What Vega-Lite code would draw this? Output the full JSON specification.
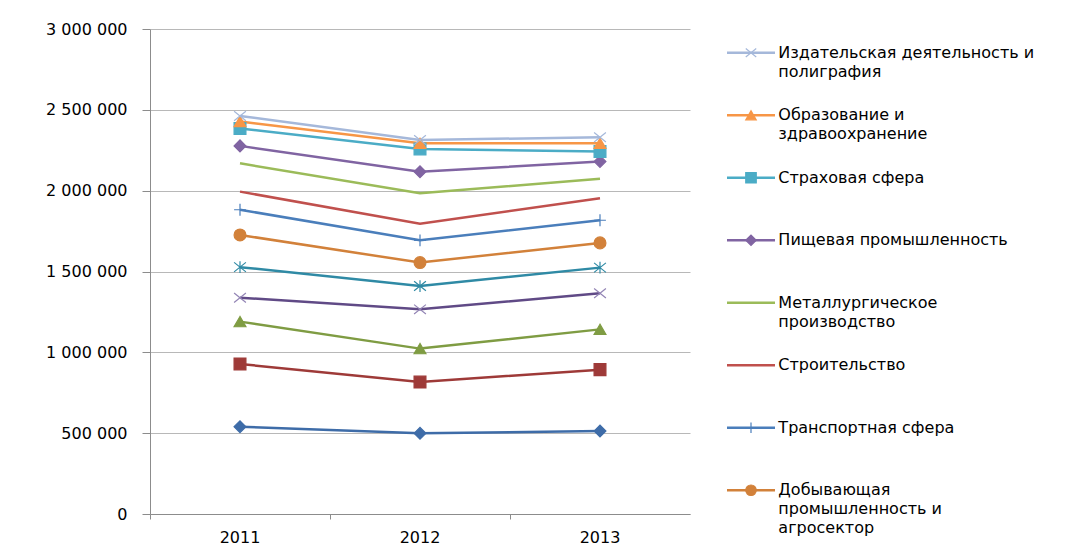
{
  "$schema": "https://vega.github.io/schema/vega-lite/v6.json",
  "padding": {"left": 5, "top": 21, "right": 0, "bottom": 0},
  "autosize": {"type": "pad"},
  "background": "white",
  "config": {"font": "DejaVu Sans", "view": {"stroke": null}},
  "datasets": {
    "main": [
      {"series": "Ряд1", "year": "2011", "value": 540000},
      {"series": "Ряд1", "year": "2012", "value": 499000},
      {"series": "Ряд1", "year": "2013", "value": 513000},
      {"series": "Ряд2", "year": "2011", "value": 928000},
      {"series": "Ряд2", "year": "2012", "value": 816000},
      {"series": "Ряд2", "year": "2013", "value": 893000},
      {"series": "Ряд3", "year": "2011", "value": 1190000},
      {"series": "Ряд3", "year": "2012", "value": 1023000},
      {"series": "Ряд3", "year": "2013", "value": 1142000},
      {"series": "Ряд4", "year": "2011", "value": 1338000},
      {"series": "Ряд4", "year": "2012", "value": 1266000},
      {"series": "Ряд4", "year": "2013", "value": 1365000},
      {"series": "Ряд5", "year": "2011", "value": 1527000},
      {"series": "Ряд5", "year": "2012", "value": 1410000},
      {"series": "Ряд5", "year": "2013", "value": 1524000},
      {"series": "Добывающая промышленность и агросектор", "year": "2011", "value": 1726000},
      {"series": "Добывающая промышленность и агросектор", "year": "2012", "value": 1555000},
      {"series": "Добывающая промышленность и агросектор", "year": "2013", "value": 1677000},
      {"series": "Транспортная сфера", "year": "2011", "value": 1882000},
      {"series": "Транспортная сфера", "year": "2012", "value": 1693000},
      {"series": "Транспортная сфера", "year": "2013", "value": 1817000},
      {"series": "Строительство", "year": "2011", "value": 1994000},
      {"series": "Строительство", "year": "2012", "value": 1796000},
      {"series": "Строительство", "year": "2013", "value": 1953000},
      {"series": "Металлургическое производство", "year": "2011", "value": 2169000},
      {"series": "Металлургическое производство", "year": "2012", "value": 1984000},
      {"series": "Металлургическое производство", "year": "2013", "value": 2074000},
      {"series": "Пищевая промышленность", "year": "2011", "value": 2277000},
      {"series": "Пищевая промышленность", "year": "2012", "value": 2117000},
      {"series": "Пищевая промышленность", "year": "2013", "value": 2180000},
      {"series": "Страховая сфера", "year": "2011", "value": 2385000},
      {"series": "Страховая сфера", "year": "2012", "value": 2258000},
      {"series": "Страховая сфера", "year": "2013", "value": 2242000},
      {"series": "Образование и здравоохранение", "year": "2011", "value": 2428000},
      {"series": "Образование и здравоохранение", "year": "2012", "value": 2293000},
      {"series": "Образование и здравоохранение", "year": "2013", "value": 2293000},
      {"series": "Издательская деятельность и полиграфия", "year": "2011", "value": 2462000},
      {"series": "Издательская деятельность и полиграфия", "year": "2012", "value": 2314000},
      {"series": "Издательская деятельность и полиграфия", "year": "2013", "value": 2330000}
    ],
    "legend": [
      {"series": "Издательская деятельность и полиграфия", "label": ["Издательская деятельность и", "полиграфия"]},
      {"series": "Образование и здравоохранение", "label": ["Образование и", "здравоохранение"]},
      {"series": "Страховая сфера", "label": ["Страховая сфера"]},
      {"series": "Пищевая промышленность", "label": ["Пищевая промышленность"]},
      {"series": "Металлургическое производство", "label": ["Металлургическое", "производство"]},
      {"series": "Строительство", "label": ["Строительство"]},
      {"series": "Транспортная сфера", "label": ["Транспортная сфера"]},
      {"series": "Добывающая промышленность и агросектор", "label": ["Добывающая", "промышленность и", "агросектор"]}
    ]
  },
  "spacing": 35,
  "hconcat": [
    {
      "width": 540,
      "height": 485,
      "data": {"name": "main"},
      "layer": [
        {
          "mark": {"type": "line", "strokeWidth": 2.5},
          "encoding": {
            "x": {
              "field": "year", "type": "ordinal", "bandPosition": 0.5,
              "scale": {"type": "band", "paddingInner": 0, "paddingOuter": 0},
              "axis": {"title": null, "labelAngle": 0, "bandPosition": 0, "labelOffset": 0, "tickSize": 5, "labelPadding": 10, "labelFontSize": 16, "labelColor": "#000000", "domainColor": "#8c8c8c", "tickColor": "#8c8c8c", "grid": false}
            },
            "y": {
              "field": "value", "type": "quantitative",
              "scale": {"domain": [0, 3000000], "nice": false},
              "axis": {"title": null, "values": [0, 500000, 1000000, 1500000, 2000000, 2500000, 3000000], "labelExpr": "replace(format(datum.value, ','), regexp(',', 'g'), ' ')", "tickSize": 8, "labelPadding": 15, "labelFontSize": 16, "labelColor": "#000000", "domainColor": "#8c8c8c", "tickColor": "#8c8c8c", "gridColor": "#b8b8b8", "minExtent": 145, "maxExtent": 145}
            },
            "color": {
              "field": "series", "type": "nominal", "legend": null,
              "scale": {
                "domain": ["Ряд1", "Ряд2", "Ряд3", "Ряд4", "Ряд5", "Добывающая промышленность и агросектор", "Транспортная сфера", "Строительство", "Металлургическое производство", "Пищевая промышленность", "Страховая сфера", "Образование и здравоохранение", "Издательская деятельность и полиграфия"],
                "range": ["#3e6ca8", "#9e3a38", "#7f9c43", "#604a86", "#2f8aa5", "#d2813a", "#4a7ebb", "#c0504d", "#9bbb59", "#8064a2", "#4bacc6", "#f79646", "#a5b8da"]
              }
            }
          }
        },
        {
          "transform": [{"filter": {"not": {"field": "series", "oneOf": ["Металлургическое производство", "Строительство"]}}}],
          "mark": {"type": "point", "filled": true, "opacity": 1, "strokeWidth": 1.2, "size": 140},
          "encoding": {
            "x": {"field": "year", "type": "ordinal", "bandPosition": 0.5},
            "y": {"field": "value", "type": "quantitative"},
            "fill": {
              "field": "series", "type": "nominal", "legend": null,
              "scale": {
                "domain": ["Ряд1", "Ряд2", "Ряд3", "Ряд4", "Ряд5", "Добывающая промышленность и агросектор", "Транспортная сфера", "Строительство", "Металлургическое производство", "Пищевая промышленность", "Страховая сфера", "Образование и здравоохранение", "Издательская деятельность и полиграфия"],
                "range": ["#3e6ca8", "#9e3a38", "#7f9c43", "#604a86", "#2f8aa5", "#d2813a", "#4a7ebb", "#c0504d", "#9bbb59", "#8064a2", "#4bacc6", "#f79646", "#a5b8da"]
              }
            },
            "stroke": {
              "field": "series", "type": "nominal", "legend": null,
              "scale": {
                "domain": ["Ряд1", "Ряд2", "Ряд3", "Ряд4", "Ряд5", "Добывающая промышленность и агросектор", "Транспортная сфера", "Строительство", "Металлургическое производство", "Пищевая промышленность", "Страховая сфера", "Образование и здравоохранение", "Издательская деятельность и полиграфия"],
                "range": ["#3e6ca8", "#9e3a38", "#7f9c43", "#9385b5", "#2f8aa5", "#d2813a", "#4a7ebb", "#c0504d", "#9bbb59", "#8064a2", "#4bacc6", "#f79646", "#a5b8da"]
              }
            },
            "shape": {
              "field": "series", "type": "nominal", "legend": null,
              "scale": {
                "domain": ["Ряд1", "Ряд2", "Ряд3", "Ряд4", "Ряд5", "Добывающая промышленность и агросектор", "Транспортная сфера", "Строительство", "Металлургическое производство", "Пищевая промышленность", "Страховая сфера", "Образование и здравоохранение", "Издательская деятельность и полиграфия"],
                "range": ["diamond", "square", "triangle-up", "M-1,-0.8L1,0.8M1,-0.8L-1,0.8", "M-1,-0.8L1,0.8M1,-0.8L-1,0.8M0,-1L0,1", "circle", "M-1,0L1,0M0,-1L0,1", "circle", "circle", "diamond", "square", "triangle-up", "M-1,-0.8L1,0.8M1,-0.8L-1,0.8"]
              }
            }
          }
        }
      ]
    },
    {
      "width": 360,
      "height": 485,
      "data": {"name": "legend"},
      "encoding": {
        "y": {"field": "series", "type": "nominal", "sort": null, "scale": {"type": "point", "padding": 0.38}, "axis": null}
      },
      "layer": [
        {
          "mark": {"type": "rule", "strokeWidth": 2.5},
          "encoding": {
            "x": {"datum": 0, "type": "quantitative", "scale": {"domain": [0, 7.5], "nice": false, "zero": false}, "axis": null},
            "x2": {"datum": 1},
            "color": {"field": "series", "type": "nominal", "legend": null}
          }
        },
        {
          "transform": [{"filter": {"not": {"field": "series", "oneOf": ["Металлургическое производство", "Строительство"]}}}],
          "mark": {"type": "point", "filled": true, "opacity": 1, "strokeWidth": 1.2, "size": 110},
          "encoding": {
            "x": {"datum": 0.5, "type": "quantitative"},
            "fill": {"field": "series", "type": "nominal", "legend": null},
            "stroke": {"field": "series", "type": "nominal", "legend": null},
            "shape": {"field": "series", "type": "nominal", "legend": null}
          }
        },
        {
          "mark": {"type": "text", "align": "left", "baseline": "alphabetic", "dy": 5, "fontSize": 16, "lineHeight": 19, "color": "#000000"},
          "encoding": {
            "x": {"datum": 1.07, "type": "quantitative"},
            "text": {"field": "label"}
          }
        }
      ]
    }
  ]
}
